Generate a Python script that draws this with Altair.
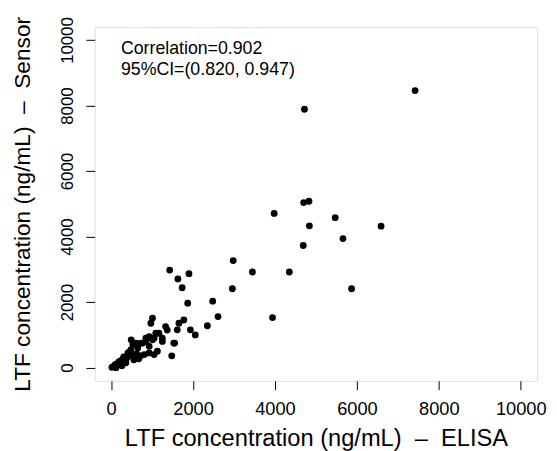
import altair as alt
import pandas as pd

# ELISA (x) and Sensor (y) concentrations, ng/mL
elisa = [7420, 4720, 4700, 4830, 3980, 5470, 4840, 6590, 5660, 4690,
         2980, 3450, 4350, 2960, 5870, 3940,
         1430, 1630, 1900, 1735, 1870, 2480, 2610, 2350, 1010, 970,
         1775, 1655, 1330, 1370, 1170, 1615, 1935, 2055, 930, 1550, 1480,
         490, 530, 610, 730, 770, 850, 850, 930, 930, 1010, 1050, 1050,
         1090, 1130, 1250, 1250, 1530, 650, 720, 810,
         20, 50, 100, 145, 195, 240, 290, 340, 385, 435, 480, 530, 580,
         625, 410, 480, 600, 310, 220, 360, 120, 265, 555, 675]
sensor = [8460, 7890, 5040, 5080, 4710, 4580, 4330, 4320, 3940, 3730,
          3270, 2920, 2920, 2410, 2410, 1530,
          2980, 2710, 2870, 2440, 1970, 2030, 1560, 1280, 1510, 1355,
          1455, 1355, 1255, 1150, 1050, 1155, 1155, 1000, 950, 750, 360,
          850, 700, 750, 750, 750, 800, 900, 650, 450, 850, 900, 400,
          1050, 500, 900, 800, 750, 600, 360, 400,
          10, 30, 90, 120, 180, 210, 270, 240, 300, 360, 390, 420, 390,
          420, 450, 540, 390, 330, 120, 150, 0, 60, 240, 270]

x_ticks = [0, 2000, 4000, 6000, 8000, 10000]
y_ticks = [0, 2000, 4000, 6000, 8000, 10000]
annotation_lines = ["Correlation=0.902", "95%CI=(0.820, 0.947)"]
annotation_x = [240, 240]
annotation_y = [9720, 9080]

SP = "\u00a0"
x_title = f"LTF{SP}concentration{SP}(ng/mL){SP}{SP}\u2013{SP}{SP}ELISA"
y_title = f"LTF{SP}concentration{SP}(ng/mL){SP}{SP}\u2013{SP}{SP}Sensor"

df = pd.DataFrame({"elisa": elisa, "sensor": sensor})
ann = pd.DataFrame({"text": annotation_lines, "x": annotation_x, "y": annotation_y})

FONT = "Liberation Sans"

xscale = alt.Scale(domain=[-400, 10400], nice=False, zero=False)
yscale = alt.Scale(domain=[-400, 10400], nice=False, zero=False)

xaxis = alt.Axis(values=x_ticks, format="d", grid=False, domain=False, tickSize=9,
                 tickColor="black", labelColor="black", labelFontSize=18.5,
                 labelFont=FONT, labelPadding=10, title=x_title,
                 titleFont=FONT, titleFontSize=24, titleFontWeight="normal",
                 titleColor="black", titlePadding=9, labelFlush=False)
yaxis = alt.Axis(values=y_ticks, format="d", grid=False, domain=False, tickSize=9,
                 tickColor="black", labelColor="black", labelFontSize=17,
                 labelFont=FONT, labelAngle=-90, labelAlign="center",
                 labelBaseline="bottom", labelPadding=10, title=y_title,
                 titleFont=FONT, titleFontSize=23, titleFontWeight="normal",
                 titleColor="black", titlePadding=24, labelFlush=False)

points = alt.Chart(df).mark_circle(size=48, color="black", opacity=1).encode(
    x=alt.X("elisa:Q", scale=xscale, axis=xaxis),
    y=alt.Y("sensor:Q", scale=yscale, axis=yaxis),
)

text = alt.Chart(ann).mark_text(align="left", baseline="middle", fontSize=18,
                                font=FONT, color="black").encode(
    x=alt.X("x:Q", scale=xscale),
    y=alt.Y("y:Q", scale=yscale),
    text="text:N",
)

chart = alt.layer(points, text).properties(
    width=449, height=359,
    autosize=alt.AutoSizeParams(type="none"),
    padding={"left": 88, "top": 16, "right": 12, "bottom": 68},
).configure_view(stroke="black", strokeWidth=1.2).configure(background="white")

chart.save("out.html", embed_options={"renderer": "svg", "actions": False})
